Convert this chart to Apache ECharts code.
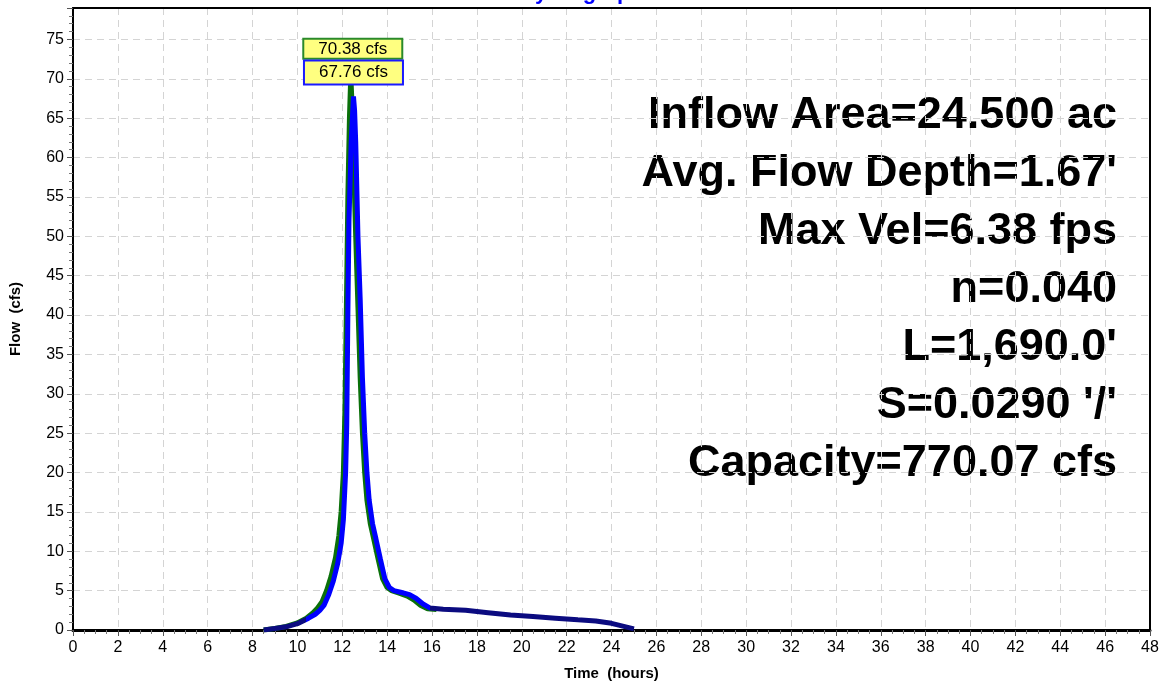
<!DOCTYPE html>
<html>
<head>
<meta charset="utf-8">
<title>Hydrograph</title>
<script src="https://cdn.jsdelivr.net/npm/echarts@6/dist/echarts.min.js"></script>
<style>
  html, body { margin: 0; padding: 0; background: #fff; }
  #chart { width: 1163px; height: 686px; }
</style>
</head>
<body>
<div id="chart"></div>
<script>
// inflow hydrograph (green)
const inflowTime = [8.5, 9.0, 9.5, 10.0, 10.4, 10.7, 10.9, 11.1, 11.3, 11.5, 11.7, 11.85, 11.95, 12.05, 12.12, 12.18, 12.25, 12.32, 12.38,
  12.45, 12.52, 12.6, 12.7, 12.8, 12.9, 13.0, 13.1, 13.25, 13.4, 13.6, 13.8, 14.0, 14.2, 14.5, 14.9, 15.2, 15.5, 15.8, 16.2];
const inflowFlow = [0, 0.2, 0.45, 0.9, 1.5, 2.2, 2.8, 3.6, 5.0, 6.8, 9.2, 12, 15, 20, 28, 40, 55, 65, 70.38,
  66, 58, 50, 41, 32, 25, 20, 16.5, 13.5, 11.6, 9, 6.5, 5.4, 5.0, 4.7, 4.3, 3.8, 3.1, 2.7, 2.6];

// outflow hydrograph (blue)
const outflowTime = [8.5, 9.0, 9.5, 10.0, 10.5, 10.8, 11.0, 11.2, 11.4, 11.6, 11.8, 11.95, 12.05, 12.15, 12.2, 12.25, 12.3, 12.4, 12.5,
  12.55, 12.6, 12.7, 12.8, 12.9, 13.0, 13.1, 13.2, 13.35, 13.5, 13.7, 13.9, 14.1, 14.3, 14.6, 15.0, 15.3, 15.6, 15.9,
  16.5, 17.5, 18.5, 19.5, 20.5, 21.5, 22.5, 23.3, 24.0, 24.5, 25.0];
const outflowFlow = [0, 0.2, 0.4, 0.8, 1.5, 2.0, 2.5, 3.2, 4.5, 6.2, 8.5, 11, 14, 20, 26, 40, 52, 62, 67.76,
  66, 62, 50, 42, 32, 25, 20, 16.5, 13.5, 11.6, 9, 6.5, 5.4, 5.0, 4.8, 4.5, 4.0, 3.3, 2.8,
  2.65, 2.5, 2.2, 1.9, 1.7, 1.5, 1.3, 1.15, 0.85, 0.5, 0.15];

const peakInflow = [12.38, 70.38];
const peakOutflow = [12.5, 67.76];

const infoLines = [
  'Inflow Area=24.500 ac',
  "Avg. Flow Depth=1.67'",
  'Max Vel=6.38 fps',
  'n=0.040',
  "L=1,690.0'",
  "S=0.0290 '/'",
  'Capacity=770.07 cfs'
];

const inflowData = inflowTime.map((t, i) => [t, inflowFlow[i]]);
const outflowData = outflowTime.map((t, i) => [t, outflowFlow[i]]);

const chart = echarts.init(document.getElementById('chart'));
const font = 'Arial, "Liberation Sans", sans-serif';

const peakLabel = (border, h, offset) => ({
  show: true,
  position: 'inside',
  offset: offset,
  formatter: p => p.value.toFixed(2) + ' cfs',
  fontFamily: font,
  fontSize: 17,
  color: '#000',
  backgroundColor: '#ffff80',
  borderColor: border,
  borderWidth: 2,
  width: 97,
  height: h,
  lineHeight: h,
  align: 'center',
  verticalAlign: 'middle',
  padding: [0, 0]
});

// plain frame axes (top and right edges)
const frameAxis = {
  axisLine: { show: true, onZero: false, lineStyle: { color: '#000', width: 2 } },
  axisTick: { show: false },
  axisLabel: { show: false },
  splitLine: { show: false }
};

chart.setOption({
  animation: false,
  grid: {
    left: 72,
    right: 13,
    top: 8,
    bottom: 54
  },
  xAxis: [{
    type: 'value',
    min: 0,
    max: 48,
    interval: 2,
    name: 'Time  (hours)',
    nameLocation: 'middle',
    nameGap: 36,
    nameTextStyle: { fontFamily: font, fontSize: 15, fontWeight: 'bold', color: '#000' },
    axisLine: { lineStyle: { color: '#000', width: 3 } },
    axisTick: { length: 6, lineStyle: { color: '#555' } },
    minorTick: { show: true, splitNumber: 4, length: 4, lineStyle: { color: '#777' } },
    axisLabel: { fontFamily: font, fontSize: 16, color: '#000', margin: 10 },
    splitLine: { show: true, lineStyle: { color: '#d4d4d4', type: [7, 5] } }
  }, Object.assign({ type: 'value', min: 0, max: 48, position: 'top' }, frameAxis)],
  yAxis: [{
    type: 'value',
    min: 0,
    max: 79,
    interval: 5,
    name: 'Flow  (cfs)',
    nameLocation: 'middle',
    nameGap: 50,
    nameTextStyle: { fontFamily: font, fontSize: 15, fontWeight: 'bold', color: '#000' },
    axisLine: { show: true, lineStyle: { color: '#000', width: 2 } },
    axisTick: { show: true, length: 6, lineStyle: { color: '#555' } },
    minorTick: { show: true, splitNumber: 5, length: 4, lineStyle: { color: '#777' } },
    axisLabel: {
      fontFamily: font, fontSize: 16, color: '#000', margin: 9,
      formatter: v => (v % 5 === 0 && v <= 75 ? String(v) : '')
    },
    splitLine: { show: true, lineStyle: { color: '#d4d4d4', type: [7, 5] } }
  }, Object.assign({ type: 'value', min: 0, max: 79, position: 'right' }, frameAxis)],
  visualMap: {
    show: false,
    type: 'piecewise',
    seriesIndex: 1,
    dimension: 0,
    pieces: [
      { lt: 10.4, color: '#0b0b80' },
      { gte: 10.4, lt: 15.9, color: '#0000ff' },
      { gte: 15.9, color: '#0b0b80' }
    ]
  },
  graphic: [
    {
      type: 'text',
      left: 'center',
      top: -18,
      style: { text: 'Hydrograph', font: 'bold 22px ' + font, fill: '#0000ff' }
    },
    {
      type: 'text',
      x: 1117,
      y: 87,
      style: {
        text: infoLines.join('\n'),
        font: 'bold 45px ' + font,
        fill: '#000',
        textAlign: 'right',
        textVerticalAlign: 'top',
        lineHeight: 58
      }
    }
  ],
  series: [
    {
      name: 'Inflow',
      type: 'line',
      data: inflowData,
      showSymbol: false,
      lineStyle: { color: '#0a700a', width: 5 },
      itemStyle: { color: '#0a700a' },
      markPoint: {
        symbol: 'rect',
        symbolSize: 0,
        data: [{ coord: peakInflow, value: peakInflow[1] }],
        label: peakLabel('#2a8a2a', 18, [2, -27])
      }
    },
    {
      name: 'Outflow',
      type: 'line',
      data: outflowData,
      showSymbol: false,
      lineStyle: { width: 5 },
      markPoint: {
        symbol: 'rect',
        symbolSize: 0,
        data: [{ coord: peakOutflow, value: peakOutflow[1] }],
        label: peakLabel('#1a1aff', 22, [0, -24])
      }
    }
  ]
});
</script>
</body>
</html>
